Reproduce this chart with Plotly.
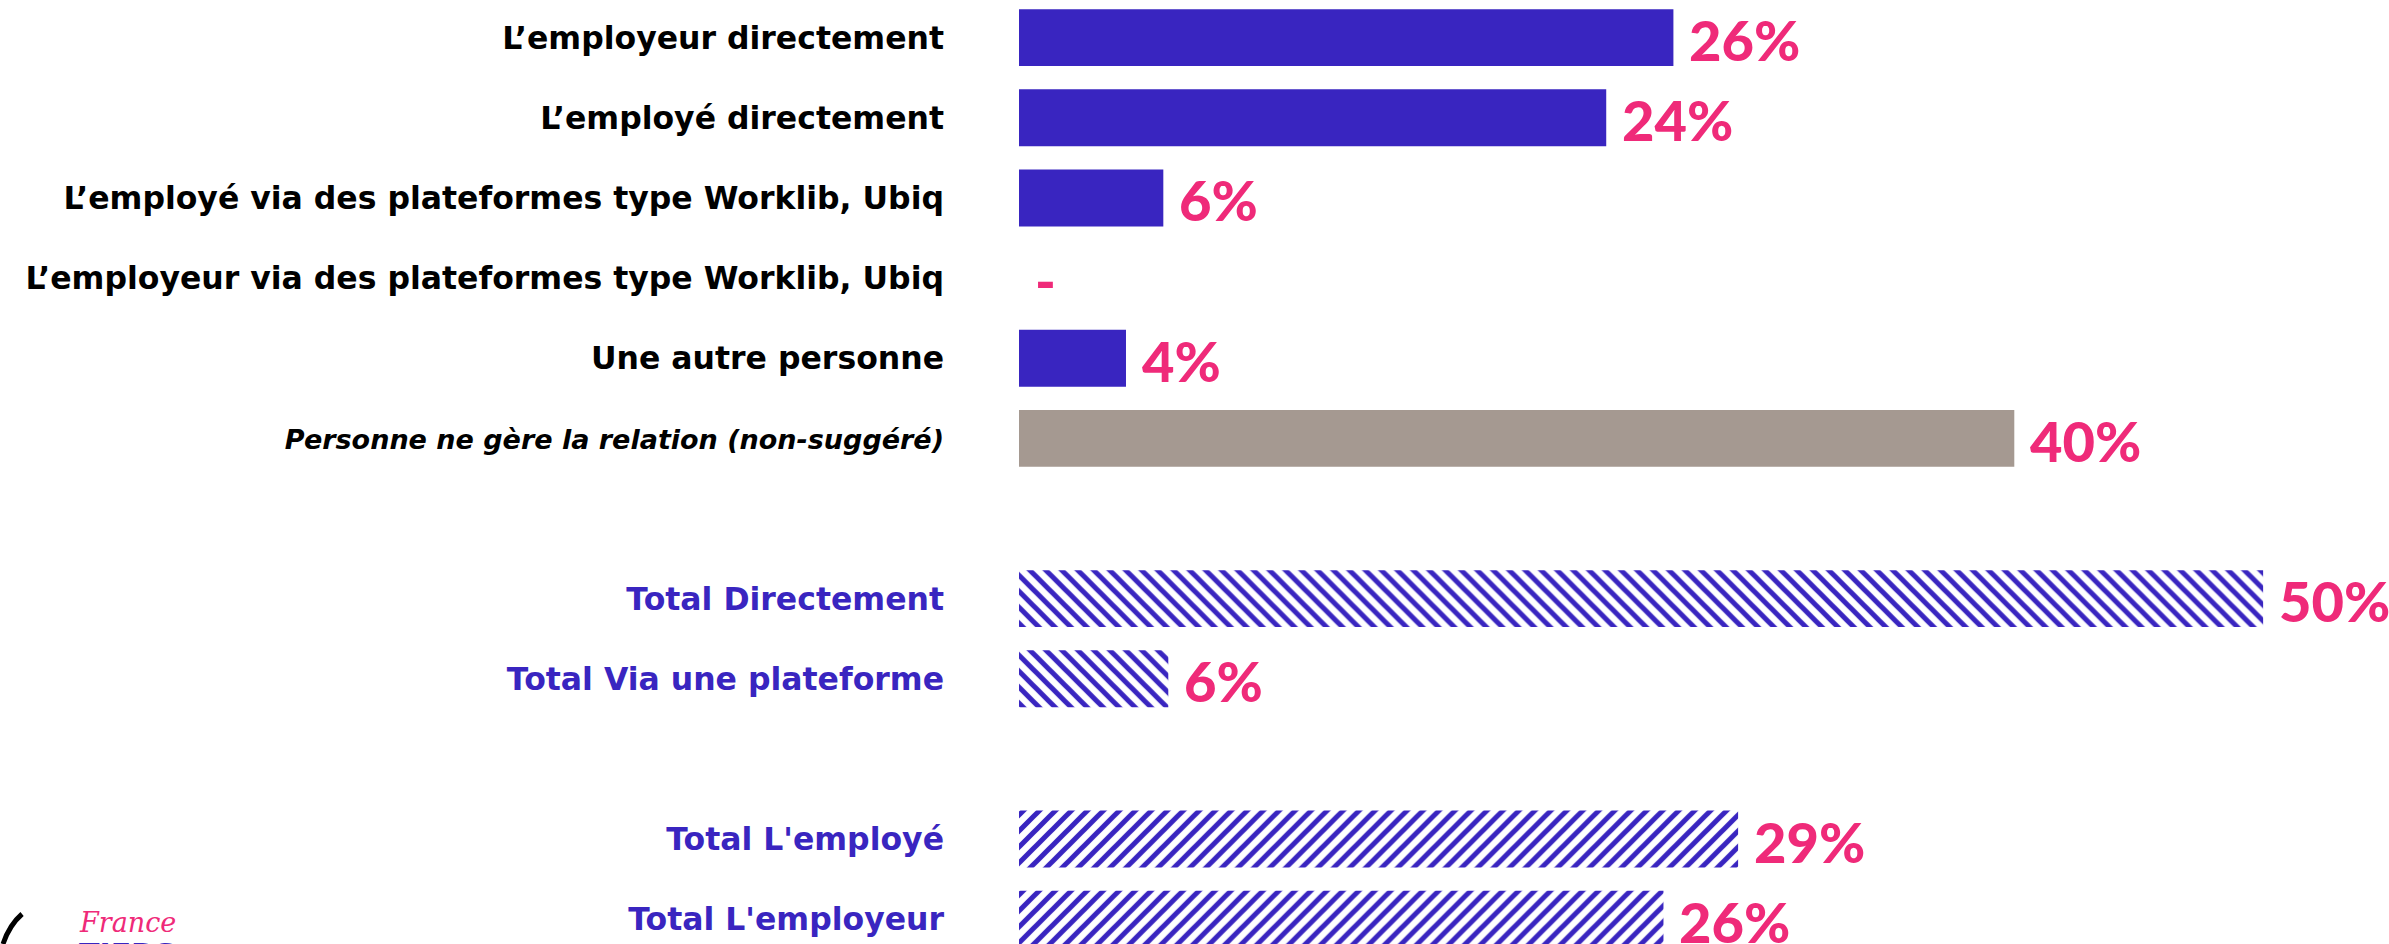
import plotly.graph_objects as go

# ---- data ----
categories = [
    "L’employeur directement",
    "L’employé directement",
    "L’employé via des plateformes type Worklib, Ubiq",
    "L’employeur via des plateformes type Worklib, Ubiq",
    "Une autre personne",
    "Personne ne gère la relation (non-suggéré)",
    " ",
    "Total Directement",
    "Total Via une plateforme",
    "  ",
    "Total L'employé",
    "Total L'employeur",
]
values = [26.3, 23.6, 5.8, 0, 4.3, 40.0, None, 50.0, 6.0, None, 28.9, 25.9]
value_labels = ["26%", "24%", "6%", "-", "4%", "40%", "", "50%", "6%", "", "29%", "26%"]
row_kind = ["item", "item", "item", "item", "item", "none", "gap",
            "total_direct", "total_direct", "gap", "total_who", "total_who"]

# ---- styles ----
BLUE = "#3925C0"
PINK = "#EF2A79"
GREY = "#A59991"
LABEL_FONT = "DejaVu Sans"
VALUE_FONT = "Lato"

bar_colors, pat_shapes, tick_texts = [], [], []
for cat, kind in zip(categories, row_kind):
    if kind == "item":
        bar_colors.append(BLUE); pat_shapes.append("")
        tick_texts.append(cat)
    elif kind == "none":
        bar_colors.append(GREY); pat_shapes.append("")
        tick_texts.append(f"<i><span style='font-size:27px'>{cat}</span></i>")
    elif kind == "total_direct":
        bar_colors.append(BLUE); pat_shapes.append("\\")
        tick_texts.append(f"<span style='color:{BLUE}'>{cat}</span>")
    elif kind == "total_who":
        bar_colors.append(BLUE); pat_shapes.append("/")
        tick_texts.append(f"<span style='color:{BLUE}'>{cat}</span>")
    else:
        bar_colors.append(BLUE); pat_shapes.append("")
        tick_texts.append("")

fig = go.Figure()
fig.add_trace(go.Bar(
    y=categories,
    x=values,
    orientation="h",
    marker=dict(
        color=bar_colors,
        line=dict(width=0),
        pattern=dict(shape=pat_shapes, fgcolor=BLUE, bgcolor="white",
                     size=11.3, solidity=0.45, fillmode="replace"),
    ),
    hoverinfo="skip",
    showlegend=False,
))

for cat, v, lab in zip(categories, values, value_labels):
    if lab == "":
        continue
    fig.add_annotation(
        x=v if v is not None else 0, y=cat, xref="x", yref="y",
        text=lab, showarrow=False, xanchor="left", yanchor="middle",
        xshift=14, yshift=-2,
        font=dict(family=VALUE_FONT, size=56, color=PINK, weight=900),
    )

# small logo fragment at bottom-left
fig.add_annotation(
    xref="paper", yref="paper", x=-0.7016, y=1 - 922 / 944,
    text="<i>France</i>", showarrow=False, xanchor="center", yanchor="middle",
    font=dict(family="DejaVu Serif", size=27, color=PINK),
)
fig.add_annotation(
    xref="paper", yref="paper", x=-0.7016, y=1 - 935 / 944,
    text="TIERS", showarrow=False, xanchor="center", yanchor="top",
    font=dict(family=LABEL_FONT, size=30, color=BLUE, weight="bold"),
)
fig.add_shape(
    type="path", xref="paper", yref="paper",
    path="M -0.785,{a} Q -0.795,{b} -0.800,{c}".format(
        a=1 - 914 / 944, b=1 - 925 / 944, c=1 - 944 / 944),
    line=dict(color="black", width=5),
)

fig.update_layout(
    width=2389, height=944,
    margin=dict(l=1019, r=100, t=0, b=0, pad=0),
    paper_bgcolor="white", plot_bgcolor="white",
    bargap=0.29,
    xaxis=dict(range=[0, 51.04], visible=False, showgrid=False, zeroline=False),
    yaxis=dict(
        type="category",
        categoryorder="array", categoryarray=categories,
        range=[11.31, -0.47],
        tickmode="array", tickvals=categories, ticktext=tick_texts,
        ticks="", showgrid=False, zeroline=False, showline=False,
        ticklabelstandoff=74,
        tickfont=dict(family=LABEL_FONT, size=31.5, color="black", weight="bold"),
    ),
)

fig.write_html(
    "out.html",
    config={"displayModeBar": False},
    post_script="document.body.style.margin='0';document.body.style.overflow='hidden';",
)
